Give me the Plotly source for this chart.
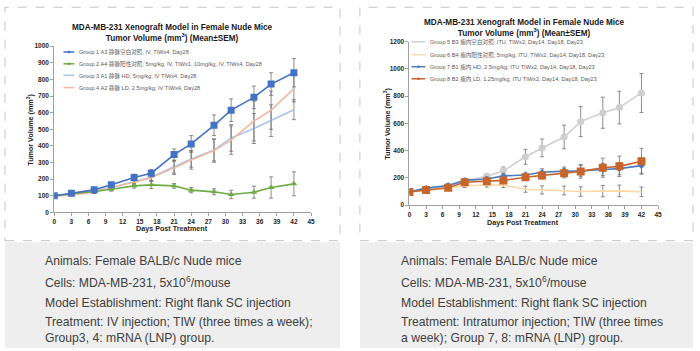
import plotly.graph_objects as go

W, H = 700, 351
def px(x): return x / W
def py(y): return 1 - y / H

days = [0, 3, 7, 10, 14, 17, 21, 24, 28, 31, 35, 38, 42]

# Left chart (IV)
g1_mean = [100, 116, 136, 166, 210, 236, 348, 412, 524, 615, 692, 772, 840]
g1_sem = [5, 8, 8, 12, 20, 22, 34, 50, 62, 68, 68, 68, 85]
g2_mean = [100, 110, 126, 140, 160, 166, 160, 134, 124, 108, 122, 150, 172]
g2_sem = [5, 8, 10, 12, 14, 22, 14, 16, 18, 25, 36, 64, 72]
g3_mean = [100, 108, 124, 150, 182, 212, 275, 322, 375, 448, 505, 552, 618]
g3_sem = [5, 6, 8, 12, 16, 20, 38, 50, 65, 80, 90, 95, 60]
g4_mean = [98, 106, 122, 150, 182, 208, 268, 315, 372, 435, 550, 615, 745]
g4_sem = [5, 6, 8, 12, 16, 20, 40, 55, 70, 85, 120, 115, 80]

# Right chart (ITU)
g5_mean = [98, 120, 140, 180, 212, 252, 355, 420, 500, 613, 678, 716, 823]
g5_sem = [5, 8, 10, 12, 20, 28, 55, 65, 87, 110, 114, 120, 143]
g6_mean = [98, 112, 125, 142, 148, 147, 117, 112, 108, 100, 103, 105, 98]
g6_sem = [5, 8, 10, 12, 15, 18, 22, 30, 32, 35, 42, 42, 35]
g7_mean = [98, 125, 145, 182, 192, 215, 222, 242, 250, 252, 262, 268, 290]
g7_sem = [5, 8, 10, 12, 15, 18, 20, 25, 30, 40, 45, 45, 55]
g8_mean = [97, 112, 128, 168, 175, 182, 205, 218, 235, 248, 275, 285, 322]
g8_sem = [5, 8, 10, 15, 18, 20, 20, 25, 35, 50, 70, 75, 95]

left_labels = [
    "Group 1 A3 静脉空白对照; IV, TIWx4, Day28",
    "Group 2 A4 静脉阳性对照; 5mg/kg, IV, TIWx1, 10mg/kg, IV, TIWx4, Day28",
    "Group 3 A1 静脉 HD, 5mg/kg; IV TIWx4, Day28",
    "Group 4 A2 静脉 LD, 2.5mg/kg; IV TIWx4, Day28",
]
right_labels = [
    "Group 5 B3 瘤内空白对照; ITU, TIWx2, Day14, Day18, Day23",
    "Group 6 B4 瘤内阳性对照; 5mg/kg, ITU, TIWx2, Day14, Day18, Day23",
    "Group 7 B1 瘤内 HD, 2.5mg/kg; ITU TIWx2, Day14, Day18, Day23",
    "Group 8 B2 瘤内 LD, 1.25mg/kg; ITU TIWx2, Day14, Day18, Day23",
]
chart_title = "MDA-MB-231 Xenograft Model in Female Nude Mice<br>Tumor Volume (mm<sup>3</sup>) (Mean±SEM)"
x_title = "Days Post Treatment"
y_title = "Tumor Volume (mm<sup>3</sup>)"
left_notes = [
    "Animals: Female BALB/c Nude mice",
    "Cells: MDA-MB-231, 5x10<sup>6</sup>/mouse",
    "Model Establishment: Right flank SC injection",
    "Treatment: IV injection; TIW (three times a week);<br>Group3, 4: mRNA (LNP) group.",
]
right_notes = [
    "Animals: Female BALB/c Nude mice",
    "Cells: MDA-MB-231, 5x10<sup>6</sup>/mouse",
    "Model Establishment: Right flank SC injection",
    "Treatment: Intratumor injection; TIW (three times<br>a week); Group 7, 8: mRNA (LNP) group.",
]
x_ticks = list(range(0, 46, 3))

FONT = "Liberation Sans, Arial, Noto Sans CJK SC, sans-serif"
ERR = "#6f6f6f"

series = [
    (g3_mean, g3_sem, "#A9C6EA", "circle", 0, "lines", "x", "y"),
    (g4_mean, g4_sem, "#F4B8A0", "circle", 0, "lines", "x", "y"),
    (g2_mean, g2_sem, "#70AD47", "triangle-up", 6, "lines+markers", "x", "y"),
    (g1_mean, g1_sem, "#4472C4", "square", 7, "lines+markers", "x", "y"),
    (g5_mean, g5_sem, "#CFCFCF", "circle", 7, "lines+markers", "x2", "y2"),
    (g6_mean, g6_sem, "#FDD9A6", "circle", 0, "lines", "x2", "y2"),
    (g7_mean, g7_sem, "#4A7EC0", "diamond", 5, "lines+markers", "x2", "y2"),
    (g8_mean, g8_sem, "#C9652A", "square", 8, "lines+markers", "x2", "y2"),
]

fig = go.Figure()
for mean, sem, color, sym, msize, mode, xa, ya in series:
    fig.add_trace(go.Scatter(
        x=days, y=mean, mode=mode, xaxis=xa, yaxis=ya,
        line=dict(color=color, width=1.6),
        marker=dict(symbol=sym, size=msize, color=color),
        error_y=dict(type="data", array=sem, visible=True, color=ERR, thickness=0.8, width=2),
        showlegend=False,
    ))

axis_common = dict(
    showgrid=False, zeroline=False, showline=True, linecolor="#A0A0A0", linewidth=1,
    ticks="outside", ticklen=3, tickcolor="#A0A0A0",
    tickfont=dict(family=FONT, size=6.5, color="#262626", weight="bold"),
)
fig.update_layout(
    width=W, height=H, margin=dict(l=0, r=0, t=0, b=0),
    paper_bgcolor="white", plot_bgcolor="rgba(0,0,0,0)",
    xaxis=dict(domain=[px(52.7), px(311.7)], range=[0, 45], tickvals=x_ticks, anchor="y", **axis_common),
    yaxis=dict(domain=[py(212.7), py(43)], range=[0, 1000], dtick=100, anchor="x", **axis_common),
    xaxis2=dict(domain=[px(411), px(661.7)], range=[0, 45], tickvals=x_ticks, anchor="y2", **axis_common),
    yaxis2=dict(domain=[py(205.3), py(38.3)], range=[0, 1200], dtick=200, anchor="x2", **axis_common),
)

shapes = []
annotations = []
for x0, x1 in [(3, 341), (361, 697)]:
    shapes.append(dict(type="rect", xref="paper", yref="paper", x0=px(x0), x1=px(x1), y0=py(243), y1=py(351),
                       fillcolor="#EEEEEE", line=dict(width=0), layer="below"))
    shapes.append(dict(type="rect", xref="paper", yref="paper", x0=px(x0), x1=px(x1), y0=py(241.5), y1=py(3.3),
                       fillcolor="rgba(0,0,0,0)", line=dict(color="#C4C4C4", width=1, dash="dash")))

for cx, cy in [(172, 29.5), (527.5, 24.5)]:
    annotations.append(dict(text=chart_title, x=px(cx), y=py(cy), xref="paper", yref="paper", showarrow=False,
                            xanchor="center", yanchor="middle", font=dict(family=FONT, size=8.2, color="#1a1a1a", weight="bold")))
for cx, cy in [(171, 229), (525, 222.7)]:
    annotations.append(dict(text=x_title, x=px(cx), y=py(cy), xref="paper", yref="paper", showarrow=False,
                            xanchor="center", yanchor="middle", font=dict(family=FONT, size=7.2, color="#262626", weight="bold")))
for cx, cy in [(28.5, 128), (387.5, 122)]:
    annotations.append(dict(text=y_title, x=px(cx), y=py(cy), xref="paper", yref="paper", showarrow=False, textangle=-90,
                            xanchor="center", yanchor="middle", font=dict(family=FONT, size=7.2, color="#262626", weight="bold")))

leg_sets = [
    (left_labels, [62, 73, 76], [49, 61, 72.7, 85.3],
     [("#4472C4", True), ("#70AD47", True), ("#A9C6EA", False), ("#F4B8A0", False)]),
    (right_labels, [413, 427, 429.5], [38.5, 51.7, 64, 76.3],
     [("#CFCFCF", False), ("#FDD9A6", False), ("#4A7EC0", True), ("#C9652A", True)]),
]
for labels, (lx0, lx1, tx), ys, styles in leg_sets:
    for lab, yy, (col, mk) in zip(labels, ys, styles):
        shapes.append(dict(type="line", xref="paper", yref="paper", x0=px(lx0), x1=px(lx1), y0=py(yy), y1=py(yy),
                           line=dict(color=col, width=1.5)))
        if mk:
            cxm = (lx0 + lx1) / 2
            shapes.append(dict(type="rect", xref="paper", yref="paper", x0=px(cxm - 1.2), x1=px(cxm + 1.2),
                               y0=py(yy + 1.2), y1=py(yy - 1.2), fillcolor=col, line=dict(width=0)))
        annotations.append(dict(text=lab, x=px(tx), y=py(yy), xref="paper", yref="paper", showarrow=False,
                                xanchor="left", yanchor="middle", font=dict(family=FONT, size=5.6, color="#595959")))

note_ys = [262, 283.5, 305.5, 332.3]
for notes, nx in [(left_notes, 41), (right_notes, 400)]:
    for t, yy in zip(notes, note_ys):
        annotations.append(dict(text=t, x=px(nx), y=py(yy), xref="paper", yref="paper", showarrow=False,
                                xanchor="left", yanchor="middle", align="left",
                                font=dict(family=FONT, size=12.2, color="#404040")))

fig.update_layout(shapes=shapes, annotations=annotations)
fig.write_html("out.html")
